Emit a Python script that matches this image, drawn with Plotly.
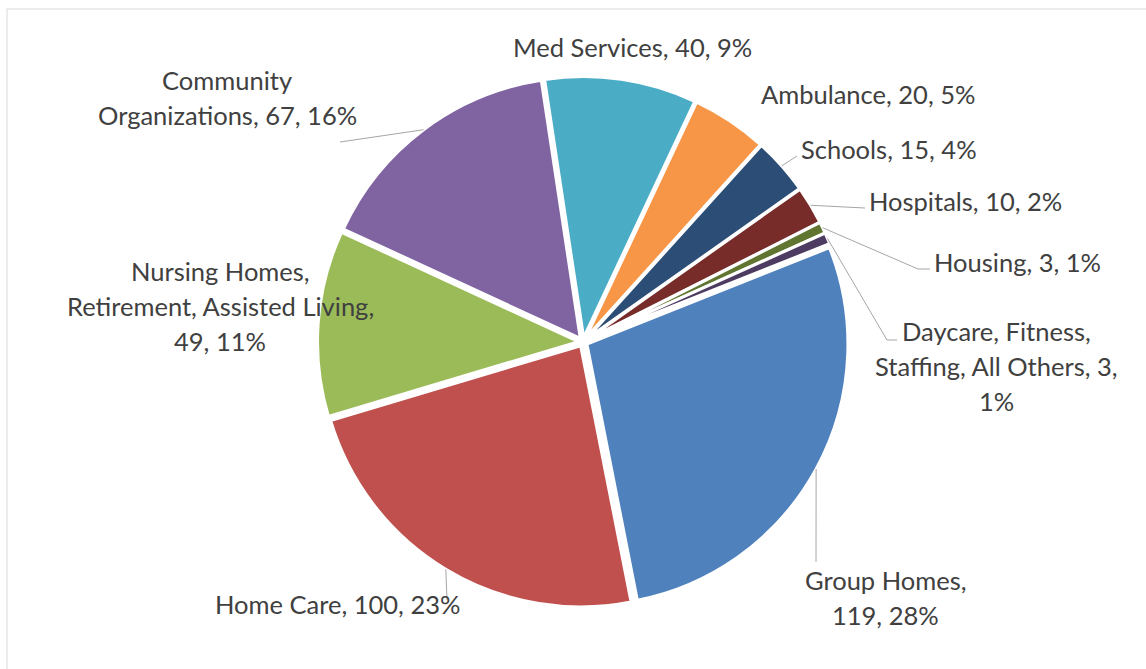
import math
import plotly.graph_objects as go

# ---------------- data ----------------
categories = [
    "Group Homes",
    "Home Care",
    "Nursing Homes, Retirement, Assisted Living",
    "Community Organizations",
    "Med Services",
    "Ambulance",
    "Schools",
    "Hospitals",
    "Housing",
    "Daycare, Fitness, Staffing, All Others",
]
values = [119, 100, 49, 67, 40, 20, 15, 10, 3, 3]
percents = [28, 23, 11, 16, 9, 5, 4, 2, 1, 1]

# displayed label lines (text wrapping as in the reference)
label_lines = [
    ["Group Homes,", "119, 28%"],
    ["Home Care, 100, 23%"],
    ["Nursing Homes,", "Retirement, Assisted Living,", "49, 11%"],
    ["Community", "Organizations, 67, 16%"],
    ["Med Services, 40, 9%"],
    ["Ambulance, 20, 5%"],
    ["Schools, 15, 4%"],
    ["Hospitals, 10, 2%"],
    ["Housing, 3, 1%"],
    ["Daycare, Fitness,", "Staffing, All Others, 3,", "1%"],
]

# ---------------- style / layout ----------------
colors = ["#4F81BD", "#C0504D", "#9BBB59", "#8064A2", "#4BACC6",
          "#F79646", "#2C4D75", "#772C2A", "#5F7530", "#4D3B62"]
W, H = 1146, 669
CX, CY = 583, 342          # pie centre (px)
R = 261                    # pie radius (px)
PULL = 0.0172
ROT = 68.3
FONT = dict(family="Lato", size=25.5, color="#404040")
LINE_H = 35

# label block centres (px) and leader line path points (px)
label_pos = [(885, 597), (337, 604), (220, 306), (227, 98), (632, 47),
             (868, 94), (889, 149), (965, 201), (1017, 262), (996, 366)]
leader_pts = [
    [(816, 562)],
    [(447, 600)],
    None,
    [(340, 142)],
    None,
    None,
    [(797, 156)],
    [(865, 208)],
    [(918, 269), (930, 269)],
    [(887, 340), (897, 340)],
]


def px(x, y):
    return x / W, 1 - y / H


S = 2 * R * (1 + PULL)
fig = go.Figure(go.Pie(
    labels=categories,
    values=values,
    sort=False,
    direction="clockwise",
    rotation=ROT,
    pull=[PULL] * len(values),
    marker=dict(colors=colors, line=dict(color="white", width=3)),
    textinfo="none",
    hoverinfo="label+value+percent",
    showlegend=False,
    domain=dict(x=[(CX - S / 2) / W, (CX + S / 2) / W],
                y=[1 - (CY + S / 2) / H, 1 - (CY - S / 2) / H]),
))

total = sum(values)
shapes = []
annotations = []
cum = 0.0
for i, v in enumerate(values):
    mid = ROT + (cum + v / 2) / total * 360
    cum += v
    a = math.radians(mid)
    rr = R * (1 + PULL)
    sx, sy = CX + rr * math.sin(a), CY - rr * math.cos(a)
    pts = leader_pts[i]
    if pts:
        path = "M {},{}".format(*px(sx, sy))
        for (x, y) in pts:
            path += " L {},{}".format(*px(x, y))
        shapes.append(dict(type="path", xref="paper", yref="paper", path=path,
                           line=dict(color="#A6A6A6", width=1)))
    lx, ly = label_pos[i]
    n = len(label_lines[i])
    for k, line in enumerate(label_lines[i]):
        yy = ly + (k - (n - 1) / 2) * LINE_H
        x, y = px(lx, yy)
        annotations.append(dict(x=x, y=y, xref="paper", yref="paper", text=line,
                                showarrow=False, xanchor="center", yanchor="middle",
                                font=FONT))

# chart area border
shapes.append(dict(type="rect", xref="paper", yref="paper",
                   x0=7 / W, y0=-0.1, x1=1.1, y1=1 - 9 / H,
                   line=dict(color="#D9D9D9", width=1), fillcolor="rgba(0,0,0,0)"))

fig.update_layout(
    width=W, height=H,
    margin=dict(l=0, r=0, t=0, b=0),
    paper_bgcolor="white",
    plot_bgcolor="white",
    shapes=shapes,
    annotations=annotations,
)
fig.write_html("out.html")
